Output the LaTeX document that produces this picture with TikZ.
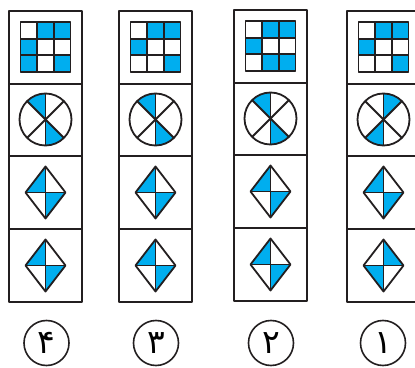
\documentclass[tikz,border=0pt]{standalone}
\usepackage{fontspec}
\newfontfamily\arabicfont[Script=Arabic]{DejaVu Sans}
\definecolor{ink}{HTML}{231F20}
\definecolor{cyanb}{HTML}{00AEEF}
\newcommand\colfig[7]{%
  % #1 x center, #2 y shift, #3 blue cells, #4 first sector angle, #5 diamond3 type, #6 diamond4 type, #7 name
  \begin{scope}[shift={(#1,#2)}]
    \foreach \r in {1,2,3,4}{%
      \draw[frame] (-36.5,{356-(\r-1)*72.75}) rectangle (36.5,{356-\r*72.75});
    }
    % grid
    \foreach \rr/\cc in {#3}{%
      \fill[cyanb] ({-25+(\cc-1)*50/3},{345-\rr*50/3}) rectangle ++(50/3,50/3);
    }
    \foreach \k in {1,2}{%
      \draw[part] ({-25+\k*50/3},295) -- ({-25+\k*50/3},345);
      \draw[part] (-25,{295+\k*50/3}) -- (25,{295+\k*50/3});
    }
    \draw[part] (-25,295) rectangle (25,345);
    % circle
    \coordinate (#7c) at (0,247.5);
    \foreach \a in {#4, #4+180}{%
      \fill[cyanb] (#7c) -- ++(\a:26) arc[start angle=\a, end angle=\a+45, radius=26] -- cycle;
    }
    \draw[part] (#7c) circle[radius=26];
    \draw[part] ($(#7c)+(90:26)$) -- ($(#7c)+(270:26)$);
    \draw[part] ($(#7c)+(45:26)$) -- ($(#7c)+(225:26)$);
    \draw[part] ($(#7c)+(135:26)$) -- ($(#7c)+(315:26)$);
    % diamonds
    \diamondfig{174.5}{#5}
    \diamondfig{101.5}{#6}
  \end{scope}
}
\newcommand\diamondfig[2]{%
  \ifnum#2=1
    \fill[cyanb] (0,#1) -- (0,#1+26) -- (-20,#1) -- cycle;
    \fill[cyanb] (0,#1) -- (0,#1-26) -- (20,#1) -- cycle;
  \else
    \fill[cyanb] (0,#1) -- (0,#1+26) -- (20,#1) -- cycle;
    \fill[cyanb] (0,#1) -- (0,#1-26) -- (-20,#1) -- cycle;
  \fi
  \draw[part] (0,#1+26) -- (20,#1) -- (0,#1-26) -- (-20,#1) -- cycle;
  \draw[part] (0,#1+26) -- (0,#1-26) (-20,#1) -- (20,#1);
}
\usetikzlibrary{calc}
\begin{document}
\begin{tikzpicture}[x=1pt,y=1pt,line join=round,
  frame/.style={draw=ink,line width=2pt},
  part/.style={draw=ink,line width=1.8pt},
  numlabel/.style={circle,draw=ink,line width=1.6pt,minimum size=45pt,inner sep=0pt,
    font=\arabicfont\fontsize{33}{33}\selectfont}]
\fill[white] (0,0) rectangle (415,367);
\useasboundingbox (0,0) rectangle (415,367);
\begin{scope}
\clip (0,0) rectangle (415,367);
\colfig{45.5}{0}{1/2,1/3,2/1,3/1,3/3}{90}{1}{1}{A}
\colfig{155.5}{0}{1/2,1/3,2/1,3/3}{90}{1}{1}{B}
\colfig{270.5}{1}{1/2,1/3,2/1,3/2,3/3}{90}{1}{1}{C}
\colfig{383.5}{0}{1/2,1/3,2/1,3/3}{45}{1}{2}{D}
\end{scope}
\node[numlabel] (l4) at (46.5,24) {۴};
\node[numlabel] (l3) at (156,24) {۳};
\node[numlabel] (l2) at (271,24) {۲};
\node[numlabel] (l1) at (383,24) {۱};
\end{tikzpicture}
\end{document}
